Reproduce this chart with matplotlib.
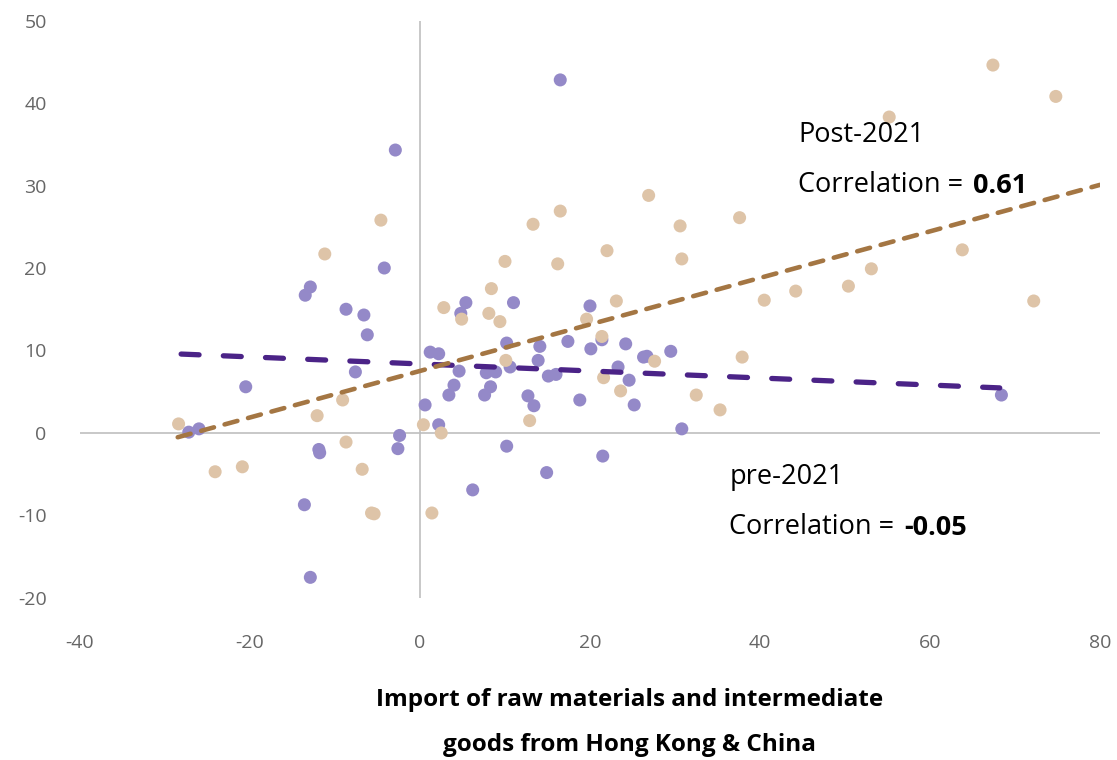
import matplotlib.pyplot as plt
import numpy as np

plt.rcParams['font.family'] = ['Open Sans', 'DejaVu Sans']
plt.rcParams['axes.unicode_minus'] = False

# pre-2021 points (purple)
PRE_X = [16.5, -2.9, -4.2, -12.9, -13.5, -8.7, -6.6, -6.2, -7.6, -20.5,
         -27.2, -26.0, -11.9, -11.8, -2.4, -2.6, -13.6, -12.9, 1.2, 2.2,
         0.6, 2.2, 5.4, 4.8, 4.6, 4.0, 3.4, 11.0, 10.2, 10.6,
         7.8, 8.9, 8.3, 7.6, 12.7, 13.4, 13.9, 14.1, 15.1, 16.0,
         17.4, 18.8, 20.0, 20.1, 21.4, 23.3, 24.2, 24.6, 26.3, 26.7,
         25.2, 29.5, 10.2, 21.5, 14.9, 6.2, 30.8, 68.4]
PRE_Y = [42.8, 34.3, 20.0, 17.7, 16.7, 15.0, 14.3, 11.9, 7.4, 5.6,
         0.1, 0.5, -2.0, -2.4, -0.3, -1.9, -8.7, -17.5, 9.8, 9.6,
         3.4, 1.0, 15.8, 14.5, 7.5, 5.8, 4.6, 15.8, 10.9, 8.0,
         7.3, 7.4, 5.6, 4.6, 4.5, 3.3, 8.8, 10.5, 6.9, 7.1,
         11.1, 4.0, 15.4, 10.2, 11.3, 8.0, 10.8, 6.4, 9.2, 9.3,
         3.4, 9.9, -1.6, -2.8, -4.8, -6.9, 0.5, 4.6]

# post-2021 points (tan)
POST_X = [-28.4, -24.1, -20.9, -12.1, -11.2, -9.1, -8.7, -6.8, -5.7, -5.4,
          -4.6, 0.4, 2.5, 1.4, 2.8, 4.9, 8.1, 9.4, 8.4, 10.0,
          10.1, 12.9, 13.3, 16.5, 16.2, 19.6, 21.4, 21.6, 22.0, 23.1,
          23.6, 26.9, 27.6, 30.6, 30.8, 32.5, 35.3, 37.6, 37.9, 40.5,
          44.2, 50.4, 53.1, 55.2, 63.8, 67.4, 74.8, 72.2]
POST_Y = [1.1, -4.7, -4.1, 2.1, 21.7, 4.0, -1.1, -4.4, -9.7, -9.8,
          25.8, 1.0, 0.0, -9.7, 15.2, 13.8, 14.5, 13.5, 17.5, 20.8,
          8.8, 1.5, 25.3, 26.9, 20.5, 13.8, 11.7, 6.7, 22.1, 16.0,
          5.1, 28.8, 8.7, 25.1, 21.1, 4.6, 2.8, 26.1, 9.2, 16.1,
          17.2, 17.8, 19.9, 38.3, 22.2, 44.6, 40.8, 16.0]

# trend lines (slope, intercept, x range)
PRE_TREND = (-0.0426, 8.37, [-28.1, 68.2])
POST_TREND = (0.282, 7.52, [-28.5, 80.0])

PURPLE_DOT = '#9489C8'
TAN_DOT = '#DEC4A8'
PURPLE_LINE = '#4B2387'
TAN_LINE = '#A47643'

fig = plt.figure(figsize=(11.17, 7.6), dpi=100)
ax = fig.add_axes([0.0716, 0.2132, 0.9132, 0.7598])

ax.axhline(0, color='#BFBFBF', lw=1.2, zorder=1)
ax.axvline(0, color='#BFBFBF', lw=1.2, zorder=1)

ax.scatter(PRE_X, PRE_Y, s=88, color=PURPLE_DOT, edgecolors='none', zorder=2)
ax.scatter(POST_X, POST_Y, s=88, color=TAN_DOT, edgecolors='none', zorder=3)

xs = np.array(PRE_TREND[2])
ax.plot(xs, PRE_TREND[0] * xs + PRE_TREND[1], color=PURPLE_LINE, lw=3.8,
        dashes=(3.4, 4.6), dash_capstyle='round', zorder=4)
xs = np.array(POST_TREND[2])
ax.plot(xs, POST_TREND[0] * xs + POST_TREND[1], color=TAN_LINE, lw=3.3,
        dashes=(2.9, 2.4), dash_capstyle='round', zorder=4)

ax.set_xlim(-40, 80)
ax.set_ylim(-20, 50)
ax.set_xticks(range(-40, 81, 20))
ax.set_yticks(range(-20, 51, 10))
for s in ax.spines.values():
    s.set_visible(False)
ax.tick_params(length=0, labelsize=14, labelcolor='#666666')
ax.tick_params(axis='y', pad=24)
ax.tick_params(axis='x', pad=26)

# annotations
FS = 19.5
t1 = ax.text(44.5, 36.1, 'Post-2021', fontsize=FS, va='center', ha='left')
t2 = ax.text(44.5, 30.1, 'Correlation =', fontsize=FS, va='center', ha='left')
ax.annotate('0.61', xy=(1, 0), xycoords=t2, xytext=(7, 0),
            textcoords='offset points', va='bottom', ha='left',
            fontsize=FS, fontweight='bold')
t3 = ax.text(36.4, -5.3, 'pre-2021', fontsize=FS, va='center', ha='left')
t4 = ax.text(36.4, -11.4, 'Correlation =', fontsize=FS, va='center', ha='left')
ax.annotate('-0.05', xy=(1, 0), xycoords=t4, xytext=(7, 0),
            textcoords='offset points', va='bottom', ha='left',
            fontsize=FS, fontweight='bold')

fig.text(0.564, 1 - 700 / 760, 'Import of raw materials and intermediate',
         ha='center', va='center', fontsize=17.5, fontweight='bold')
fig.text(0.564, 1 - 745 / 760, 'goods from Hong Kong & China',
         ha='center', va='center', fontsize=17.5, fontweight='bold')

plt.savefig('out.png', dpi=100)
